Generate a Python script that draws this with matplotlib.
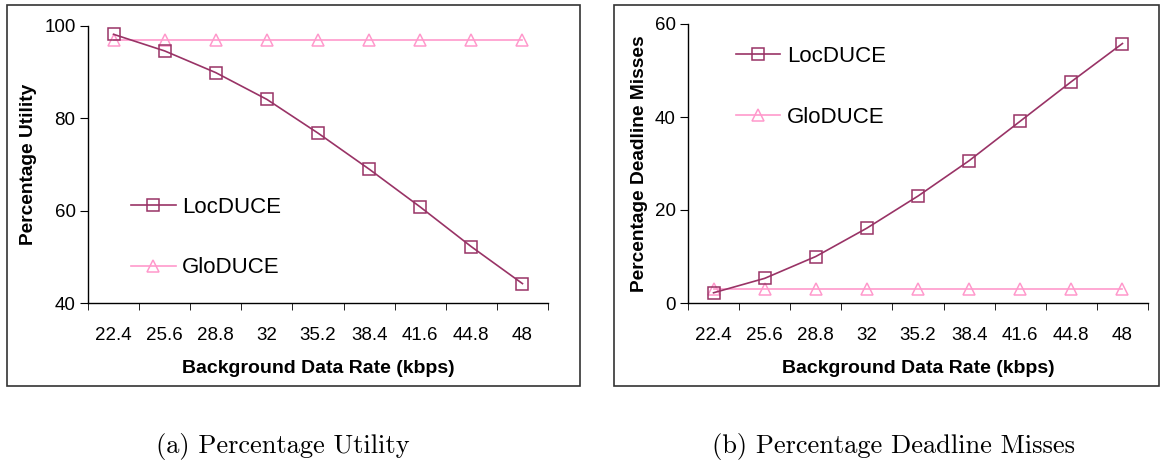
import numpy as np
import matplotlib.pyplot as plt
from matplotlib.patches import Rectangle

# data
rates = ['22.4', '25.6', '28.8', '32', '35.2', '38.4', '41.6', '44.8', '48']
util_loc = [98.2, 94.6, 89.9, 84.1, 76.8, 69.0, 60.8, 52.2, 44.2]
util_glo = [97, 97, 97, 97, 97, 97, 97, 97, 97]
miss_loc = [2.2, 5.3, 10.0, 16.1, 23.0, 30.6, 39.1, 47.6, 55.8]
miss_glo = [3, 3, 3, 3, 3, 3, 3, 3, 3]

LOC_COL = '#993366'
GLO_COL = '#FF99CC'

plt.rcParams['font.family'] = ['Liberation Sans', 'DejaVu Sans']

W, H = 1162, 463
fig = plt.figure(figsize=(W / 100, H / 100), dpi=100)


def px_axes(x0, y0, x1, y1):
    return fig.add_axes([x0 / W, 1 - y1 / H, (x1 - x0) / W, (y1 - y0) / H])


def style_axes(ax, ylabel, ylim, yticks):
    x = np.arange(len(rates))
    ax.set_xlim(-0.5, len(rates) - 0.5)
    ax.set_ylim(*ylim)
    ax.set_yticks(yticks)
    ax.set_xticks(x)
    ax.set_xticklabels(rates)
    ax.set_xticks(np.arange(-0.5, len(rates)), minor=True)
    ax.tick_params(axis='x', which='major', length=0, pad=17, labelsize=13.5)
    ax.tick_params(axis='x', which='minor', length=5, direction='out', color='black')
    ax.tick_params(axis='y', length=6, direction='out', labelsize=13.5, pad=3)
    for s in ['top', 'right']:
        ax.spines[s].set_visible(False)
    for s in ['left', 'bottom']:
        ax.spines[s].set_linewidth(1.0)
    ax.set_xlabel('Background Data Rate (kbps)', fontsize=14, fontweight='bold', labelpad=12)
    ax.set_ylabel(ylabel, fontsize=13.75, fontweight='bold', labelpad=5)


def draw(ax, loc, glo, anchor):
    x = np.arange(len(rates))
    ax.plot(x, glo, color=GLO_COL, lw=1.2, marker='^', ms=9, mfc='none',
            mec=GLO_COL, mew=1.1, label='GloDUCE', clip_on=False)
    ax.plot(x, loc, color=LOC_COL, lw=1.2, marker='s', ms=9, mfc='none',
            mec=LOC_COL, mew=1.1, label='LocDUCE', clip_on=False)
    h, l = ax.get_legend_handles_labels()
    ax.legend(h[::-1], l[::-1], loc='upper left', bbox_to_anchor=anchor,
              frameon=False, fontsize=16, handlelength=2.0, handletextpad=0.3,
              labelspacing=1.79, borderaxespad=0, borderpad=0)


# panel borders
fig.patches.append(Rectangle((7 / W, 1 - 386 / H), 573 / W, 381 / H,
                             transform=fig.transFigure, fill=False, ec='#333333', lw=1.2))
fig.patches.append(Rectangle((614 / W, 1 - 386 / H), 545 / W, 381 / H,
                             transform=fig.transFigure, fill=False, ec='#333333', lw=1.2))

ax1 = px_axes(88, 26, 548, 303)
style_axes(ax1, 'Percentage Utility', (40, 100), [40, 60, 80, 100])
draw(ax1, util_loc, util_glo, (0.094, 0.384))

ax2 = px_axes(688, 24, 1148, 303)
style_axes(ax2, 'Percentage Deadline Misses', (0, 60), [0, 20, 40, 60])
draw(ax2, miss_loc, miss_glo, (0.104, 0.922))

cap = dict(fontsize=19, family='cmr10', ha='center', va='center')
fig.text(283 / W, 1 - 447 / H, '(a) Percentage Utility', **cap)
fig.text(893 / W, 1 - 447 / H, '(b) Percentage Deadline Misses', **cap)

fig.savefig('out.png', dpi=100)
